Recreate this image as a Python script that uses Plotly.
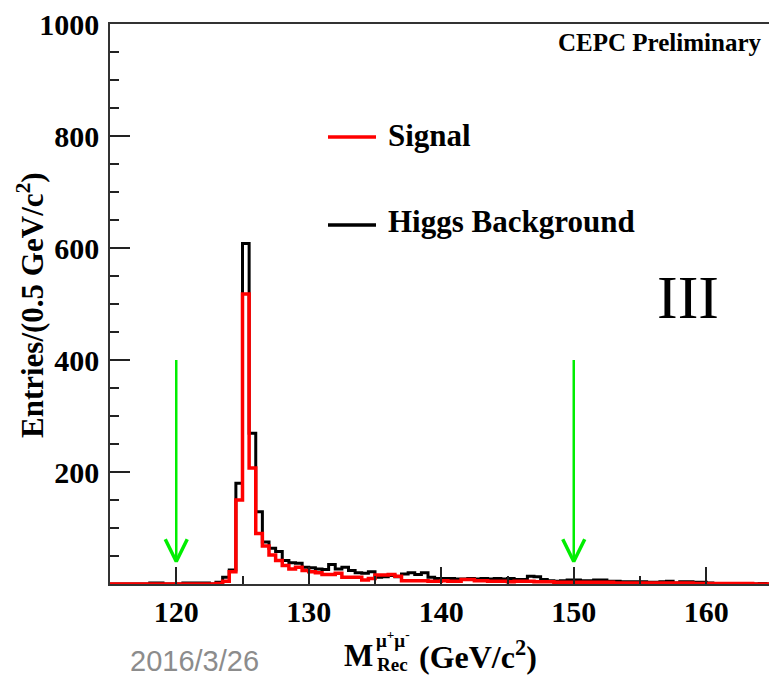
import numpy as np
import plotly.graph_objects as go

# ---------------- data ----------------
bin_start = 115.0
bin_width = 0.5
higgs_bkg = [0, 0, 0, 0, 0, 0, 2, 2, 0, 0,
             0, 2, 2, 2, 2, 0, 3, 12, 25, 180,
             608, 269, 129, 75, 64, 58, 42, 38, 37, 30,
             29, 27, 26, 35, 27, 30, 24, 20, 19, 22,
             12, 13, 15, 13, 18, 20, 17, 20, 12, 10,
             10, 10, 9, 9, 10, 9, 10, 9, 10, 9,
             10, 8, 8, 14, 13, 8, 6, 5, 6, 7,
             7, 6, 6, 7, 7, 5, 5, 4, 4, 4,
             4, 3, 3, 4, 5, 2, 4, 4, 3, 3,
             2, 1, 1, 1, 1, 1, 1, 0, 1, 0]
signal = [0, 0, 0, 0, 0, 0, 0, 0, 0, 0,
          0, 0, 0, 0, 0, 0, 1, 5, 22, 150,
          518, 207, 90, 68, 52, 42, 33, 27, 30, 24,
          22, 20, 17, 17, 19, 12, 12, 12, 7, 10,
          16, 16, 17, 14, 6, 6, 6, 6, 5, 5,
          6, 5, 5, 8, 8, 6, 6, 5, 5, 5,
          4, 5, 5, 5, 4, 4, 4, 3, 3, 3,
          3, 3, 3, 3, 3, 3, 2, 2, 2, 2,
          2, 2, 2, 2, 2, 2, 2, 2, 1, 1,
          1, 1, 1, 1, 1, 1, 1, 0, 0, 0]
arrow_x = [120, 150]
arrow_top = 400
arrow_tip = 40
x_ticks = [120, 130, 140, 150, 160]
y_ticks = [200, 400, 600, 800, 1000]

# ---------------- layout geometry ----------------
W, H = 769, 676
L, R, T, B = 110, 0, 24, 92
pw, ph = W - L - R, H - T - B
x_lo = 115.0
x_hi = x_lo + pw / 13.25   # 10 GeV per 132.5 px
y_lo, y_hi = 0, 1000


def px(x):
    return (x - L) / pw


def py(y):
    return (H - B - y) / ph


n = len(signal)
edges = bin_start + bin_width * np.arange(n + 1)

fig = go.Figure()


def step_trace(vals, color, width, name):
    yv = list(vals) + [vals[-1]]
    return go.Scatter(x=edges, y=yv, mode="lines", line=dict(color=color, width=width, shape="hv"),
                      name=name, showlegend=False, hoverinfo="skip")


fig.add_trace(step_trace(higgs_bkg, "black", 3, "Higgs Background"))
fig.add_trace(step_trace(signal, "#ff0000", 3.5, "Signal"))

# green arrows
head_dx = 0.83
head_dy = 40
for ax in arrow_x:
    fig.add_trace(go.Scatter(x=[ax, ax], y=[arrow_top, arrow_tip], mode="lines",
                             line=dict(color="#00ee00", width=2.5), showlegend=False, hoverinfo="skip"))
    fig.add_trace(go.Scatter(x=[ax - head_dx, ax, ax + head_dx],
                             y=[arrow_tip + head_dy, arrow_tip, arrow_tip + head_dy], mode="lines",
                             line=dict(color="#00ee00", width=3.5), showlegend=False, hoverinfo="skip"))

serif = "Liberation Serif"
tickfont = dict(family=serif, size=30, color="black", weight="bold")

fig.update_layout(
    width=W, height=H,
    margin=dict(l=L, r=R, t=T, b=B, pad=0),
    paper_bgcolor="white", plot_bgcolor="white",
    xaxis=dict(range=[x_lo, x_hi], tickvals=x_ticks, ticktext=[str(v) for v in x_ticks],
               ticks="inside", ticklen=17, tickwidth=1.5, tickcolor="#222",
               minor=dict(ticks="inside", ticklen=8, dtick=5, tick0=115, tickcolor="#222", tickwidth=1.5, showgrid=False),
               showline=True, linecolor="#333", linewidth=1.5, mirror=True,
               showgrid=False, zeroline=False, tickfont=tickfont),
    yaxis=dict(range=[y_lo, y_hi], tickvals=y_ticks, ticktext=[str(v) for v in y_ticks],
               ticks="inside", ticklen=20, tickwidth=1.5, tickcolor="#222",
               minor=dict(ticks="inside", ticklen=9, dtick=50, tickcolor="#222", tickwidth=1.5, showgrid=False),
               showline=True, linecolor="#333", linewidth=1.5, mirror=False,
               showgrid=False, zeroline=False, tickfont=tickfont, ticklabelstandoff=3),
)

ann = []
# CEPC Preliminary
ann.append(dict(text="<b>CEPC Preliminary</b>", x=px(763), y=py(43), xanchor="right", yanchor="middle",
                font=dict(family=serif, size=25, color="black")))
# Legend
fig.add_shape(type="line", xref="paper", yref="paper", x0=px(328), x1=px(376), y0=py(137), y1=py(137),
              line=dict(color="#ff0000", width=3.5))
fig.add_shape(type="line", xref="paper", yref="paper", x0=px(328), x1=px(376), y0=py(225), y1=py(225),
              line=dict(color="black", width=3.5))
ann.append(dict(text="<b>Signal</b>", x=px(386), y=py(136), xanchor="left", yanchor="middle",
                font=dict(family=serif, size=31, color="black")))
ann.append(dict(text="<b>Higgs Background</b>", x=px(386), y=py(222), xanchor="left", yanchor="middle",
                font=dict(family=serif, size=31, color="black")))
# III
ann.append(dict(text="III", x=px(688), y=py(297), xanchor="center", yanchor="middle",
                font=dict(family=serif, size=62, color="black")))
# Y title
ann.append(dict(text="<b>Entries/(0.5 GeV/c<sup>2</sup>)</b>", x=px(30), y=py(305), textangle=-90,
                xanchor="center", yanchor="middle", font=dict(family=serif, size=31, color="black")))
# X title pieces
ann.append(dict(text="<b>M</b>", x=px(342), y=py(655), xanchor="left", yanchor="middle",
                font=dict(family=serif, size=31, color="black")))
ann.append(dict(text="<b>μ<sup>+</sup>μ<sup>-</sup></b>", x=px(374), y=py(639), xanchor="left", yanchor="middle",
                font=dict(family=serif, size=19, color="black")))
ann.append(dict(text="<b>Rec</b>", x=px(375), y=py(664), xanchor="left", yanchor="middle",
                font=dict(family=serif, size=19, color="black")))
ann.append(dict(text="<b>(GeV/c<sup>2</sup>)</b>", x=px(417), y=py(655), xanchor="left", yanchor="middle",
                font=dict(family=serif, size=32, color="black")))
# date
ann.append(dict(text="2016/3/26", x=px(128), y=py(661), xanchor="left", yanchor="middle",
                font=dict(family="Liberation Sans", size=29, color="#8c8c8c")))

for a in ann:
    a.update(xref="paper", yref="paper", showarrow=False)
fig.update_layout(annotations=ann)

fig.write_html("out.html")
